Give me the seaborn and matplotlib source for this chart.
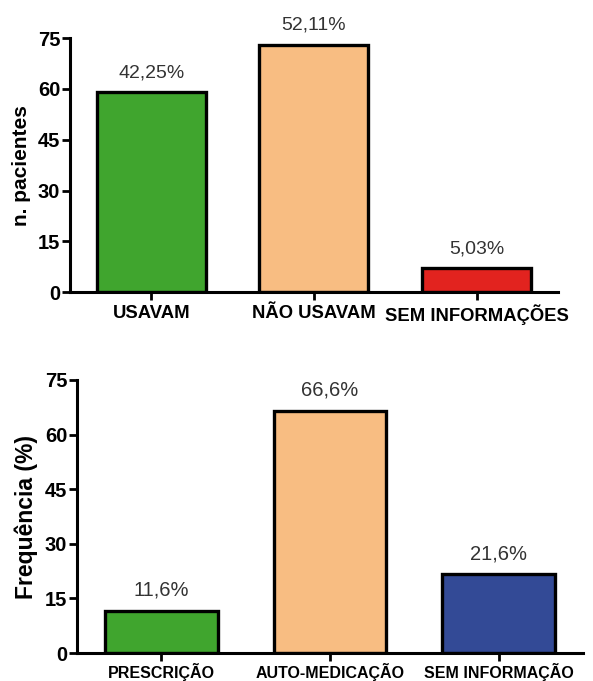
import pandas as pd
import matplotlib.pyplot as plt
import seaborn as sns

# -----------------------------
# Data
# -----------------------------
uso_categorias = ["USAVAM", "NÃO USAVAM", "SEM INFORMAÇÕES"]
uso_pacientes = [59, 73, 7]
uso_pct = ["42,25%", "52,11%", "5,03%"]
uso_cores = ["#40a52e", "#f8bd82", "#e2231f"]

origem_categorias = ["PRESCRIÇÃO", "AUTO-MEDICAÇÃO", "SEM INFORMAÇÃO"]
origem_freq = [11.6, 66.6, 21.6]
origem_pct = ["11,6%", "66,6%", "21,6%"]
origem_cores = ["#40a52e", "#f8bd82", "#334a96"]

yticks = [0, 15, 30, 45, 60, 75]

sns.set_style("ticks", {"text.color": "black", "axes.labelcolor": "black",
                        "xtick.color": "black", "ytick.color": "black",
                        "axes.edgecolor": "black"})
plt.rcParams["font.family"] = ["Liberation Sans", "DejaVu Sans"]

fig = plt.figure(figsize=(5.93, 6.81), dpi=100)
ax1 = fig.add_axes([0.118, 0.571, 0.823, 0.373])
ax2 = fig.add_axes([0.130, 0.041, 0.853, 0.401])


def draw(ax, cats, vals, cores, pcts, ylabel, xfs, ylfs, pfs, xpad):
    df = pd.DataFrame({"cat": cats, "val": vals})
    sns.barplot(x="cat", y="val", hue="cat", data=df, palette=cores, legend=False,
                width=0.67, edgecolor="black", linewidth=2.4, saturation=1, ax=ax)
    for cont, lab in zip(ax.containers, pcts):
        ax.bar_label(cont, labels=[lab], padding=8, fontsize=pfs, color="#333333")
    ax.set_ylim(0, 75)
    ax.set_xlim(-0.5, 2.5)
    ax.set_yticks(yticks)
    ax.set_xlabel("")
    ax.set_ylabel(ylabel, fontsize=ylfs, fontweight="bold", labelpad=5)
    for side in ["top", "right"]:
        ax.spines[side].set_visible(False)
    for side in ["left", "bottom"]:
        ax.spines[side].set_linewidth(2.2)
    ax.tick_params(axis="both", width=2, length=6, color="black", labelcolor="black")
    ax.tick_params(axis="y", labelsize=14.5, pad=1)
    ax.tick_params(axis="x", labelsize=xfs, pad=xpad)
    for t in ax.get_xticklabels() + ax.get_yticklabels():
        t.set_fontweight("bold")
    ax.patch.set_alpha(0)


draw(ax1, uso_categorias, uso_pacientes, uso_cores, uso_pct, "n. pacientes", 13.3, 15, 14, 3)
draw(ax2, origem_categorias, origem_freq, origem_cores, origem_pct, "Frequência (%)", 11.5, 16.5, 14.5, 1.5)

fig.savefig("out.png", dpi=100)
plt.close()
